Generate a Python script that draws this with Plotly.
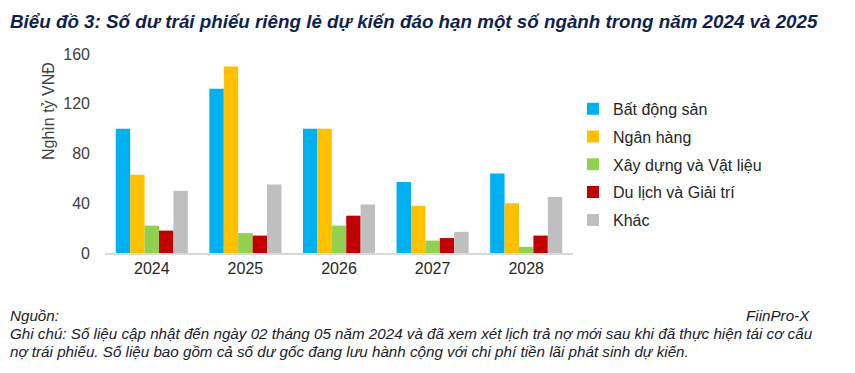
import plotly.graph_objects as go

years = ["2024", "2025", "2026", "2027", "2028"]
series_names = ["Bất động sản", "Ngân hàng", "Xây dựng và Vật liệu", "Du lịch và Giải trí", "Khác"]
bat_dong_san = [100, 132, 100, 57, 64]
ngan_hang = [63, 150, 100, 38, 40]
xay_dung = [22, 16, 22, 10, 5]
du_lich = [18, 14, 30, 12, 14]
khac = [50, 55, 39, 17, 45]
colors = ["#00B0F0", "#FFC000", "#92D050", "#C00000", "#BFBFBF"]
y_ticks = [0, 40, 80, 120, 160]

values = [bat_dong_san, ngan_hang, xay_dung, du_lich, khac]

# page has an 8px body margin: figure is sized/positioned to compensate
W, H = 847, 365
L, R, T, B = 97, 282, 46, 120
plot_w = W - L - R
plot_h = H - T - B


def px(xp):  # screen x -> paper
    return (xp - 8 - L) / plot_w


def py(yp):  # screen y -> paper
    return (H - B - (yp - 8)) / plot_h


fig = go.Figure()
for name, vals, col in zip(series_names, values, colors):
    fig.add_trace(go.Bar(x=years, y=vals, name=name, marker=dict(color=col, line=dict(width=0)),
                         legendgroup=name))

font_family = "Liberation Sans, Arial, sans-serif"
annotations = [
    dict(text="Nghìn tỷ VNĐ", textangle=-90, x=px(48), y=py(111), xref="paper", yref="paper",
         xanchor="center", yanchor="middle", showarrow=False, font=dict(size=16, color="#404040")),
    dict(text="<b><i>Biểu đồ 3: Số dư trái phiếu riêng lẻ dự kiến đáo hạn một số ngành trong năm 2024 và 2025</i></b>",
         x=px(8), y=py(22), xref="paper", yref="paper", showarrow=False, xanchor="left", yanchor="middle",
         font=dict(size=18.8, color="#0F1F4F")),
]
footer = [
    ("<i>Nguồn:</i>", 8, 315, "left"),
    ("<i>FiinPro-X</i>", 812, 315, "right"),
    ("<i>Ghi chú: Số liệu cập nhật đến ngày 02 tháng 05 năm 2024 và đã xem xét lịch trả nợ mới sau khi đã thực hiện tái cơ cấu</i>", 8, 333, "left"),
    ("<i>nợ trái phiếu. Số liệu bao gồm cả số dư gốc đang lưu hành cộng với chi phí tiền lãi phát sinh dự kiến.</i>", 8, 351, "left"),
]
for text, x, y, anchor in footer:
    annotations.append(dict(text=text, x=px(x), y=py(y), xref="paper", yref="paper", showarrow=False,
                            xanchor=anchor, yanchor="middle", font=dict(size=15.2, color="#1A1A2E")))

fig.update_layout(
    width=W, height=H,
    margin=dict(l=L, r=R, t=T, b=B, autoexpand=False),
    paper_bgcolor="white", plot_bgcolor="white",
    barmode="group", bargap=0.23, bargroupgap=0,
    font=dict(family=font_family, size=15, color="#404040"),
    showlegend=True,
    legend=dict(x=1.0, y=0.81, xanchor="left", yanchor="top",
                font=dict(size=16, color="#262626"),
                tracegroupgap=4, itemwidth=30, bgcolor="rgba(0,0,0,0)"),
    xaxis=dict(showgrid=False, showline=True, linecolor="#D9D9D9", linewidth=1.5,
               ticks="", tickfont=dict(size=16, color="#262626"), fixedrange=True),
    yaxis=dict(range=[0, 160], tickvals=y_ticks, showgrid=False, zeroline=False,
               showline=False, ticks="", ticklabelstandoff=14,
               tickfont=dict(size=16, color="#404040")),
    annotations=annotations,
)

fig.write_html("out.html")
